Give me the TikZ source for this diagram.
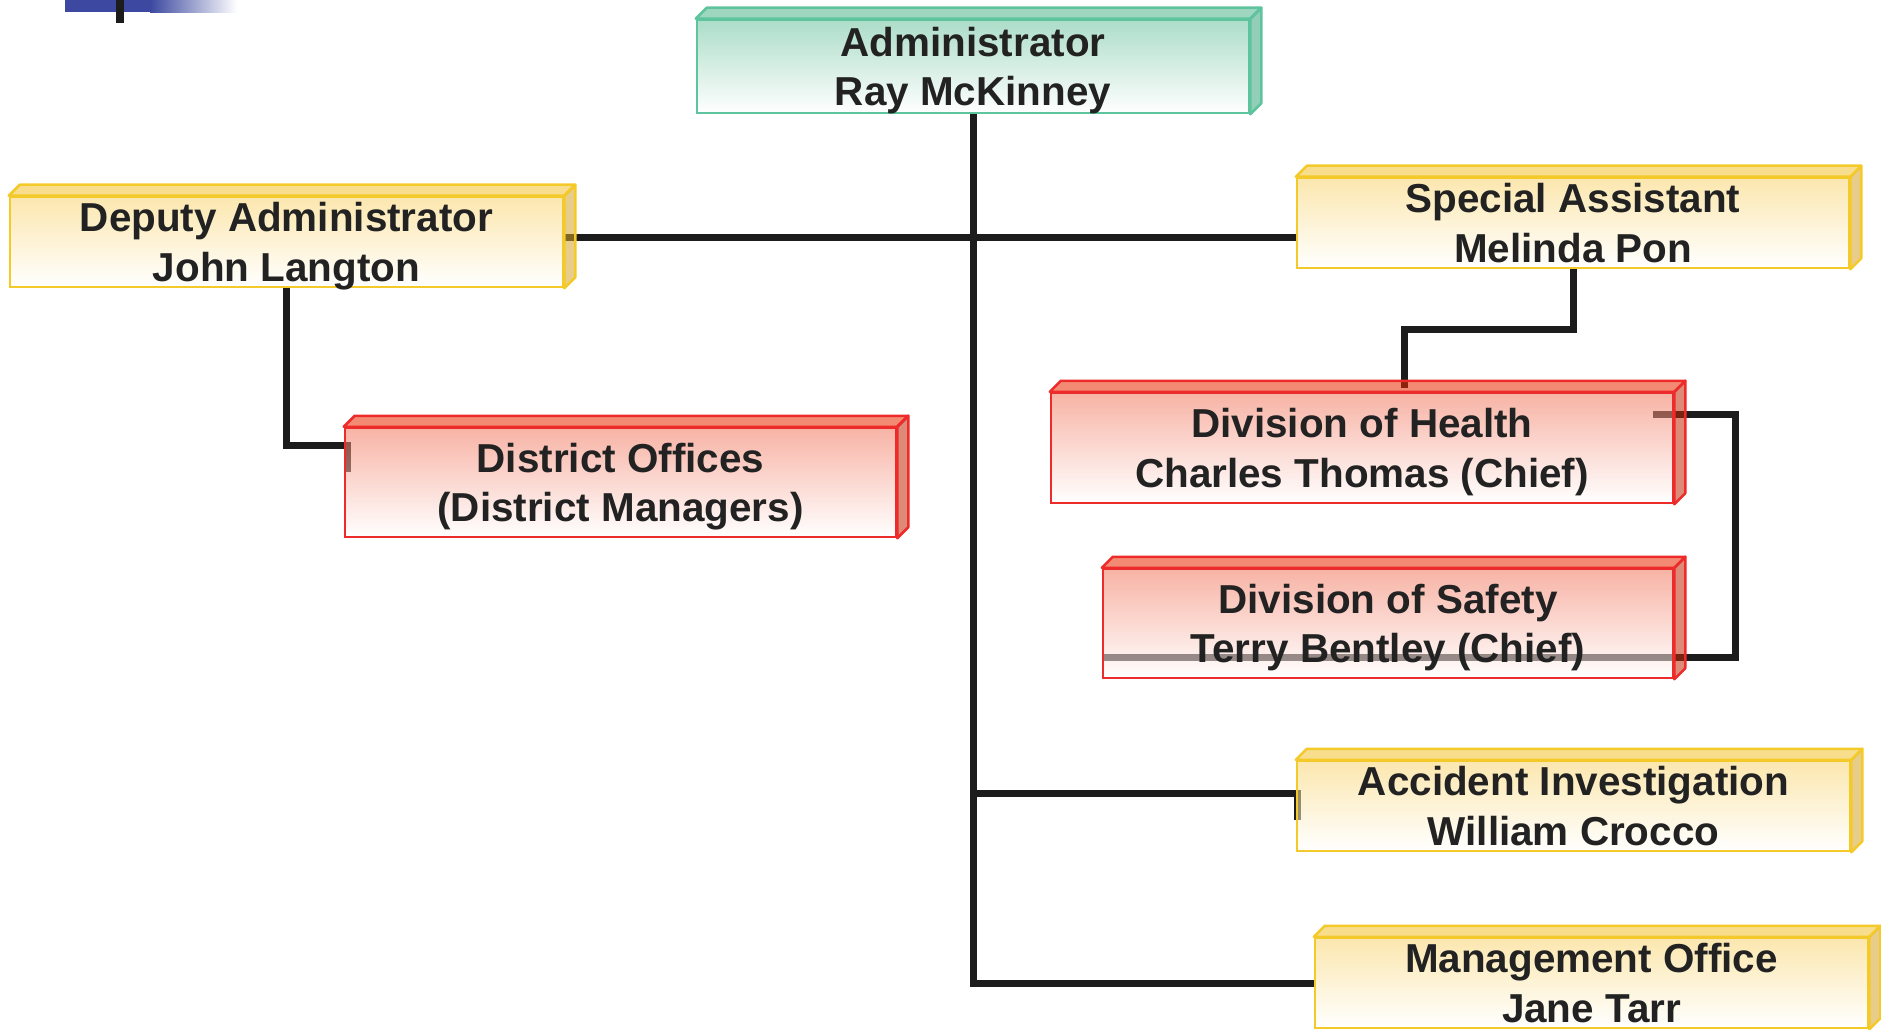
\documentclass[tikz,border=0pt]{standalone}
\usepackage{fontspec}
\setmainfont{Liberation Sans}
\usepackage{tikz}

\definecolor{ink}{RGB}{34,34,34}
\definecolor{wire}{RGB}{28,28,28}
\definecolor{hdrblue}{RGB}{61,73,160}
% green (top unit)
\definecolor{linegrn}{RGB}{94,196,158}
\definecolor{topgrn}{RGB}{79,181,140}
\definecolor{frontgrn}{RGB}{104,193,157}
\definecolor{sidegrn}{RGB}{57,168,122}
% yellow
\definecolor{lineylw}{RGB}{244,201,42}
\definecolor{topylw}{RGB}{242,195,46}
\definecolor{frontylw}{RGB}{248,211,108}
\definecolor{sideylw}{RGB}{213,164,42}
% red
\definecolor{linered}{RGB}{238,43,43}
\definecolor{topred}{RGB}{233,42,0}
\definecolor{frontred}{RGB}{241,117,91}
\definecolor{sidered}{RGB}{195,42,10}

% two lines, centred on cap height and last baseline
\newcommand\unittext[2]{\rule{0pt}{8.2pt}\smash{#1}\\\smash{#2}}

\pgfdeclarelayer{wires}
\pgfsetlayers{wires,main}

\begin{document}
\begin{tikzpicture}[
    x=0.1mm,y=-0.1mm,
    unit/.style={draw=line#1, top color=front#1, bottom color=white,
      fill opacity=.55, text opacity=1, line width=.25mm, inner sep=0pt,
      align=center, text=ink,
      font=\bfseries\fontsize{11.5}{14.1}\selectfont},
    conn/.style={line width=.7mm, wire}
    ]
    \useasboundingbox (0,0) rectangle (1881,1030);
    % header strip
    \fill[hdrblue] (65,0) rectangle (150,12);
    \shade[left color=hdrblue, right color=white] (150,0) rectangle (237,13);
    \fill[wire] (116,0) rectangle (124,23);

    \node[unit=grn, minimum width=55.2mm, minimum height=9.3mm] (admin) at (973,66.5) {\unittext{Administrator}{Ray McKinney}};
    \node[unit=ylw, minimum width=55.3mm, minimum height=9mm] (deputy) at (286.5,242) {\unittext{Deputy Administrator}{John Langton}};
    \node[unit=ylw, minimum width=55.2mm, minimum height=9mm] (sa) at (1573,223) {\unittext{Special Assistant}{Melinda Pon}};
    \node[unit=red, minimum width=55.1mm, minimum height=10.9mm] (dist) at (620.5,482.5) {\unittext{District Offices}{(District Managers)}};
    \node[unit=red, minimum width=62.2mm, minimum height=11mm] (hlth) at (1362,448) {\unittext{Division of Health}{Charles Thomas (Chief)}};
    \node[unit=red, minimum width=57mm, minimum height=10.9mm] (sfty) at (1388,623.5) {\unittext{Division of Safety}{Terry Bentley (Chief)}};
    \node[unit=ylw, minimum width=55.3mm, minimum height=9mm] (acc) at (1573.5,806) {\unittext{Accident Investigation}{William Crocco}};
    \node[unit=ylw, minimum width=55.3mm, minimum height=9mm] (mgmt) at (1591.5,983) {\unittext{Management Office}{Jane Tarr}};

    % top and side faces
    \foreach \n/\c in {admin/grn, deputy/ylw, sa/ylw, dist/red, hlth/red, sfty/red, acc/ylw, mgmt/ylw} {
      \filldraw[draw=line\c, fill=top\c, fill opacity=.55, line width=.25mm, line join=round]
        (\n.north west) -- ++(11,-11) -- ([shift={(11,-11)}]\n.north east) -- (\n.north east) -- cycle;
      \filldraw[draw=line\c, fill=side\c, fill opacity=.55, line width=.25mm, line join=round]
        (\n.north east) -- ([shift={(11,-11)}]\n.north east) -- ([shift={(11,-11)}]\n.south east) -- (\n.south east) -- cycle;
    }

    \coordinate (hub) at (973,238);
    \coordinate (disttick) at (347,472);
    \coordinate (hlthtop) at (1404,388);
    \coordinate (hlthstub) at (1653,414);
    \coordinate (loop) at (1735,657);
    \coordinate (acctick) at (1297,820);

    \begin{pgfonlayer}{wires}
      \draw[conn] (admin.south) |- (mgmt.west);
      \draw[conn] (deputy.east |- hub) -- (hub) -- (hub -| sa.west);
      \draw[conn] (deputy.south) |- (disttick |- 0,445) -- (disttick);
      \draw[conn] (sa.south) -- (sa.south |- 0,330) -| (hlthtop);
      \draw[conn] (hlthstub) -| (loop) -- (loop -| sfty.west);
      \draw[conn] (admin.south |- 0,793) -| (acctick);
    \end{pgfonlayer}
  \end{tikzpicture}
\end{document}
